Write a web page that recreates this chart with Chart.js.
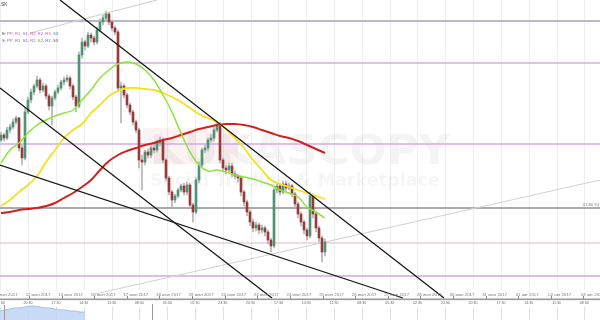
<!DOCTYPE html>
<html>
<head>
<meta charset="utf-8">
<script src="https://cdn.jsdelivr.net/npm/chart.js@4.4.1/dist/chart.umd.min.js"></script>
<style>
  html, body { margin: 0; padding: 0; background: #fff; }
</style>
</head>
<body>
<canvas id="chart" width="600" height="320"></canvas>
<script>
// candles, oldest first; the open of each bar is the close of the bar before
const firstOpen = 1.1660;
const closes = [
  1.1665, 1.1662, 1.1670, 1.1673, 1.1678, 1.1682, 1.1652, 1.1642, 1.1688, 1.1700,
  1.1708, 1.1714, 1.1720, 1.1710, 1.1714, 1.1704, 1.1694, 1.1702, 1.1708, 1.1712,
  1.1718, 1.1720, 1.1722, 1.1714, 1.1703, 1.1694, 1.1745, 1.1758, 1.1754, 1.1765,
  1.1762, 1.1758, 1.1770, 1.1778, 1.1782, 1.1786, 1.1778, 1.1772, 1.1768, 1.1712,
  1.1714, 1.1705, 1.1695, 1.1688, 1.1678, 1.1670, 1.1640, 1.1638, 1.1648, 1.1645,
  1.1652, 1.1650, 1.1657, 1.1660, 1.1640, 1.1622, 1.1608, 1.1600, 1.1604, 1.1610,
  1.1614, 1.1608, 1.1615, 1.1595, 1.1588, 1.1620, 1.1635, 1.1650, 1.1652, 1.1660,
  1.1662, 1.1670, 1.1674, 1.1640, 1.1632, 1.1630, 1.1634, 1.1626, 1.1624, 1.1622,
  1.1608, 1.1598, 1.1588, 1.1578, 1.1572, 1.1575, 1.1570, 1.1572, 1.1568, 1.1560,
  1.1554, 1.1610, 1.1614, 1.1608, 1.1616, 1.1612, 1.1614, 1.1606, 1.1596, 1.1586,
  1.1578, 1.1570, 1.1564, 1.1604, 1.1586, 1.1572, 1.1562, 1.1548, 1.1558
];
const highs = [
  1.1668, 1.1667, 1.1673, 1.1676, 1.1681, 1.1684, 1.1683, 1.1655, 1.1692, 1.1703,
  1.1711, 1.1716, 1.1724, 1.1722, 1.1717, 1.1716, 1.1706, 1.1704, 1.1710, 1.1715,
  1.1720, 1.1723, 1.1725, 1.1724, 1.1716, 1.1705, 1.1748, 1.1762, 1.1760, 1.1768,
  1.1767, 1.1764, 1.1773, 1.1781, 1.1785, 1.1789, 1.1788, 1.1780, 1.1774, 1.1770,
  1.1718, 1.1716, 1.1707, 1.1697, 1.1690, 1.1680, 1.1672, 1.1645, 1.1650, 1.1651,
  1.1654, 1.1655, 1.1660, 1.1663, 1.1662, 1.1642, 1.1624, 1.1610, 1.1606, 1.1612,
  1.1616, 1.1617, 1.1618, 1.1617, 1.1597, 1.1622, 1.1638, 1.1652, 1.1655, 1.1662,
  1.1666, 1.1673, 1.1679, 1.1678, 1.1642, 1.1635, 1.1637, 1.1637, 1.1629, 1.1626,
  1.1624, 1.1610, 1.1600, 1.1590, 1.1581, 1.1578, 1.1577, 1.1575, 1.1574, 1.1570,
  1.1562, 1.1612, 1.1617, 1.1616, 1.1619, 1.1619, 1.1617, 1.1616, 1.1608, 1.1598,
  1.1588, 1.1580, 1.1572, 1.1608, 1.1606, 1.1588, 1.1574, 1.1564, 1.1561
];
const lows = [
  1.1658, 1.1659, 1.1660, 1.1667, 1.1671, 1.1676, 1.1649, 1.1635, 1.1640, 1.1686,
  1.1697, 1.1705, 1.1712, 1.1707, 1.1708, 1.1701, 1.1690, 1.1675, 1.1700, 1.1706,
  1.1710, 1.1715, 1.1718, 1.1711, 1.1700, 1.1688, 1.1692, 1.1742, 1.1750, 1.1752,
  1.1758, 1.1755, 1.1756, 1.1768, 1.1775, 1.1780, 1.1775, 1.1769, 1.1765, 1.1708,
  1.1677, 1.1702, 1.1692, 1.1685, 1.1675, 1.1667, 1.1632, 1.1610, 1.1635, 1.1642,
  1.1642, 1.1647, 1.1648, 1.1654, 1.1637, 1.1619, 1.1605, 1.1593, 1.1597, 1.1602,
  1.1608, 1.1605, 1.1605, 1.1592, 1.1578, 1.1586, 1.1617, 1.1632, 1.1647, 1.1649,
  1.1658, 1.1659, 1.1668, 1.1637, 1.1628, 1.1626, 1.1628, 1.1623, 1.1621, 1.1618,
  1.1604, 1.1594, 1.1584, 1.1574, 1.1568, 1.1569, 1.1566, 1.1567, 1.1564, 1.1556,
  1.1548, 1.1552, 1.1607, 1.1605, 1.1606, 1.1609, 1.1610, 1.1603, 1.1592, 1.1582,
  1.1574, 1.1566, 1.1560, 1.1562, 1.1582, 1.1568, 1.1558, 1.1538, 1.1544
];

// moving averages, one value every third candle
const maFast = [
  1.1637, 1.1650, 1.1657, 1.1667, 1.1675, 1.1680, 1.1684, 1.1687, 1.1690, 1.1700,
  1.1710, 1.1722, 1.1730, 1.1736, 1.1738, 1.1736, 1.1730, 1.1720, 1.1705, 1.1688,
  1.1667, 1.1648, 1.1635, 1.1629, 1.1630, 1.1628, 1.1625, 1.1623, 1.1621, 1.1618,
  1.1615, 1.1610, 1.1607, 1.1603, 1.1593, 1.1588, 1.1582
];
const maMid = [
  1.1594, 1.1600, 1.1608, 1.1615, 1.1624, 1.1638, 1.1650, 1.1662, 1.1670, 1.1676,
  1.1687, 1.1695, 1.1704, 1.1709, 1.1712, 1.1712, 1.1711, 1.1710, 1.1707, 1.1703,
  1.1698, 1.1692, 1.1686, 1.1682, 1.1678, 1.1671, 1.1662, 1.1652, 1.1640, 1.1630,
  1.1620, 1.1616, 1.1613, 1.1610, 1.1607, 1.1604, 1.1601
];
const maSlow = [
  1.1587, 1.1588, 1.1590, 1.1591, 1.1592, 1.1594, 1.1597, 1.1602, 1.1607, 1.1613,
  1.1620, 1.1630, 1.1639, 1.1645, 1.1649, 1.1652, 1.1655, 1.1657, 1.1660, 1.1662,
  1.1665, 1.1668, 1.1671, 1.1673, 1.1675, 1.1676, 1.1676, 1.1675, 1.1673, 1.1670,
  1.1667, 1.1664, 1.1662, 1.1659, 1.1655, 1.1651, 1.1647
];

// pivot / fibo levels across the whole chart
const levels = [1.1779, 1.1737, 1.1656, 1.1592, 1.1557, 1.1524];

// hand drawn lines: [from candle, from price, to candle, to price]
const trendLines = [
  [19.67, 1.1800, 147.67, 1.1502],
  [-0.33, 1.1712, 90.33, 1.1502],
  [-0.33, 1.1635, 134.0, 1.1502]
];
const channelLines = [
  [9.67, 1.1767, 52.0, 1.1800],
  [31.33, 1.1506, 199.67, 1.1620]
];

const dateLabels = [
  "11 июл 2017", "12 июл 2017", "13 июл 2017", "16 июл 2017", "17 июл 2017",
  "18 июл 2017", "19 июл 2017", "20 июл 2017", "23 июл 2017", "24 июл 2017",
  "25 июл 2017", "26 июл 2017", "27 июл 2017", "28 июл 2017", "30 июл 2017",
  "31 июл 2017", "01 авг 2017", "02 авг 2017", "03 авг 2017"
];
const timeLabels = [
  "23:30", "20:30", "17:30", "14:30", "11:30", "08:30", "05:30", "02:30",
  "23:30", "20:30", "17:30", "14:30", "11:30", "08:30", "05:30", "02:30",
  "23:30", "20:30", "17:30", "14:30", "11:30", "08:30"
];

// overview strip under the axis
const navValues = [6.0, 6.7, 7.3, 8.0, 8.0, 8.7, 9.3, 9.3, 8.7, 8.0, 8.0, 7.3, 6.7, 6.7, 6.0, 6.0, 5.3, 5.3];

const X_MIN = -1 / 3;
const X_MAX = 200 - 1 / 3;
const DATE_START = 1.47, DATE_STEP = 10.87;
const TIME_START = -0.23, TIME_STEP = 9.27;
const NAV_STEP = 5 / 3;

const opens = closes.map((c, i) => i === 0 ? firstOpen : closes[i - 1]);

function lineSet(points, color, width, order, extra) {
  return Object.assign({
    type: "line",
    data: points,
    borderColor: color,
    borderWidth: width,
    pointRadius: 0,
    fill: false,
    order
  }, extra || {});
}

const levelColors = ["#bdb6cc", "#ddaae8", "#d4a8e2", "#8f8f8f", "#e8ced5", "#d3a6dc"];
const levelWidths = [2, 1.4, 1.4, 1.4, 1.4, 1.4];

const datasets = [];

levels.forEach((lv, k) => {
  datasets.push(lineSet([{ x: X_MIN, y: lv }, { x: X_MAX, y: lv }], levelColors[k], levelWidths[k], 30));
});

channelLines.forEach(t => {
  datasets.push(lineSet([{ x: t[0], y: t[1] }, { x: t[2], y: t[3] }], "#d2d2d2", 1.2, 28));
});

datasets.push({
  type: "bar",
  data: closes.map((c, i) => ({ x: i, y: [lows[i], highs[i]] })),
  backgroundColor: "#b4b4b4",
  barThickness: 1,
  grouped: false,
  order: 20
});

datasets.push({
  type: "bar",
  data: closes.map((c, i) => ({ x: i, y: [opens[i], c] })),
  backgroundColor: closes.map((c, i) => c >= opens[i] ? "#4f9274" : "#973a3a"),
  barThickness: 2,
  minBarLength: 1,
  grouped: false,
  order: 18
});

const maPoints = arr => arr.map((v, k) => ({ x: k * 3, y: v }));
datasets.push(lineSet(maPoints(maSlow), "#d41f1f", 2, 10, { tension: 0.4 }));
datasets.push(lineSet(maPoints(maMid), "#f2e21e", 1.8, 9, { tension: 0.4 }));
datasets.push(lineSet(maPoints(maFast), "#8ee23c", 1.5, 8, { tension: 0.4 }));

trendLines.forEach(t => {
  datasets.push(lineSet([{ x: t[0], y: t[1] }, { x: t[2], y: t[3] }], "#161616", 1.3, 2));
});

datasets.push(lineSet(
  navValues.map((v, k) => ({ x: X_MIN + k * NAV_STEP, y: v })),
  "#a6c2ea", 1, 40,
  { yAxisID: "yNav", fill: "origin", backgroundColor: "rgba(190,212,245,0.85)" }
));

function drawParts(ctx, x, y, parts) {
  parts.forEach(([text, color]) => {
    ctx.fillStyle = color;
    ctx.fillText(text, x, y);
    x += ctx.measureText(text).width;
  });
}

const chrome = {
  id: "chrome",
  beforeDatasetsDraw(chart) {
    const { ctx, scales: { x } } = chart;
    ctx.save();
    // faint vertical grid
    timeLabels.forEach((t, k) => {
      const px = Math.round(x.getPixelForValue(TIME_START + k * TIME_STEP)) + 0.5;
      ctx.strokeStyle = "#eeeeee";
      ctx.lineWidth = 1;
      ctx.beginPath(); ctx.moveTo(px, 0); ctx.lineTo(px, 290); ctx.stroke();
      ctx.strokeStyle = "#dedede";
      ctx.beginPath(); ctx.moveTo(px, 307); ctx.lineTo(px, 320); ctx.stroke();
    });
    // watermark
    ctx.fillStyle = "rgba(230,80,80,0.07)";
    ctx.fillRect(143, 128, 95, 36);
    ctx.textBaseline = "alphabetic";
    ctx.font = "bold 40px 'DejaVu Sans'";
    ctx.fillStyle = "rgba(0,0,0,0.045)";
    let w = ctx.measureText("KUKASCOPY").width;
    ctx.save(); ctx.translate(150, 164); ctx.scale(300 / w, 1); ctx.fillText("KUKASCOPY", 0, 0); ctx.restore();
    ctx.font = "bold 17px 'DejaVu Sans'";
    ctx.fillStyle = "rgba(0,0,0,0.04)";
    w = ctx.measureText("Social Trading & Marketplace").width;
    ctx.save(); ctx.translate(150, 186); ctx.scale(290 / w, 1); ctx.fillText("Social Trading & Marketplace", 0, 0); ctx.restore();
    ctx.restore();
  },
  afterDraw(chart) {
    const { ctx, scales: { x } } = chart;
    ctx.save();
    ctx.textBaseline = "middle";

    // date row, axis line, time row
    ctx.font = "4.3px 'Liberation Sans'";
    ctx.textAlign = "center";
    ctx.fillStyle = "#777";
    ctx.strokeStyle = "#8a8a8a";
    ctx.lineWidth = 1;
    dateLabels.forEach((d, k) => {
      const px = x.getPixelForValue(DATE_START + k * DATE_STEP);
      ctx.fillText(d, px, 295);
      ctx.beginPath(); ctx.moveTo(Math.round(px - 9) + 0.5, 296); ctx.lineTo(Math.round(px - 9) + 0.5, 299); ctx.stroke();
    });
    ctx.fillStyle = "#9a9a9a";
    ctx.fillRect(0, 298.5, 600, 1.6);
    ctx.font = "3.6px 'Liberation Sans'";
    ctx.fillStyle = "#666";
    timeLabels.forEach((t, k) => {
      ctx.fillText(t, x.getPixelForValue(TIME_START + k * TIME_STEP), 302.5);
    });

    // overview window edges
    ctx.strokeStyle = "#9a9a9a";
    ctx.beginPath(); ctx.moveTo(152.5, 304); ctx.lineTo(152.5, 320); ctx.stroke();
    ctx.beginPath(); ctx.moveTo(4.5, 305); ctx.lineTo(4.5, 320); ctx.stroke();

    // top-left captions
    ctx.textAlign = "left";
    ctx.font = "4.5px 'Liberation Sans'";
    ctx.fillStyle = "#444";
    ctx.fillText(".SK", 0, 5);
    ctx.font = "4.2px 'Liberation Sans'";
    const sep = ["\u002c ", "#888"];
    drawParts(ctx, 2, 33.5, [["B: ", "#555"], ["PP", "#9b4fc0"], sep, ["R1", "#d05aa8"], sep, ["S1", "#8a5cc8"], sep,
      ["R2", "#cc55a0"], sep, ["S2", "#9a52b8"], sep, ["R3", "#c8609c"], sep, ["S3", "#3f88b8"]]);
    drawParts(ctx, 2, 40.5, [["S: ", "#555"], ["PP", "#9a58b8"], sep, ["R1", "#4aa04a"], sep, ["S1", "#6a6ac0"], sep,
      ["R2", "#c45a9a"], sep, ["S2", "#3f9a5a"], sep, ["R3", "#4a7ab8"], sep, ["S3", "#555"]]);

    // fibo caption at the right edge
    ctx.font = "4px 'Liberation Sans'";
    ctx.fillStyle = "#6a78a0";
    ctx.fillText("61.80 %(1.1592)", 583, 205);
    ctx.restore();
  }
};

new Chart(document.getElementById("chart"), {
  type: "bar",
  data: { datasets },
  options: {
    responsive: false,
    animation: false,
    devicePixelRatio: 1,
    layout: { padding: 0 },
    plugins: { legend: { display: false }, tooltip: { enabled: false } },
    scales: {
      x: { type: "linear", min: X_MIN, max: X_MAX, offset: false, display: false },
      y: { min: 1.1480, max: 1.1800, display: false },
      yNav: { type: "linear", min: 0, max: 213.33, display: false }
    }
  },
  plugins: [chrome]
});
</script>
</body>
</html>
